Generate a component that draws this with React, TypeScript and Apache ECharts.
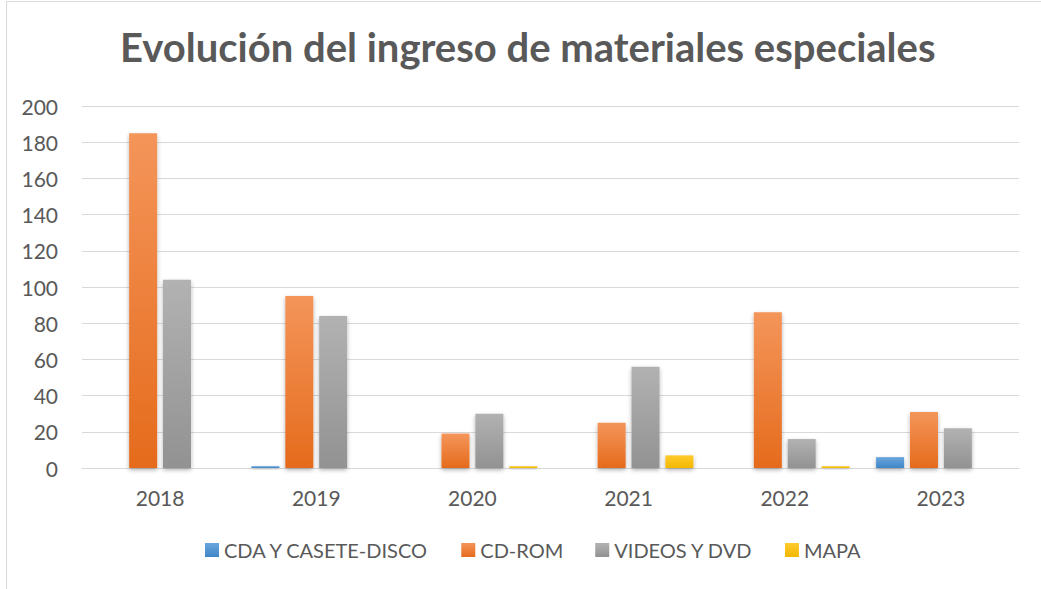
import React, { useEffect, useRef } from "react";
import * as echarts from "echarts";

const years = ["2018", "2019", "2020", "2021", "2022", "2023"];
const cdaValues = [0, 1, 0, 0, 0, 6];
const cdromValues = [185, 95, 19, 25, 86, 31];
const videoValues = [104, 84, 30, 56, 16, 22];
const mapaValues = [0, 0, 1, 7, 1, 0];
const seriesNames = ["CDA Y CASETE-DISCO", "CD-ROM", "VIDEOS Y DVD", "MAPA"];

const grad = (top: string, bottom: string) =>
  new echarts.graphic.LinearGradient(0, 0, 0, 1, [
    { offset: 0, color: top },
    { offset: 1, color: bottom },
  ]);

export default function App() {
  const ref = useRef<HTMLDivElement>(null);
  useEffect(() => {
    document.body.style.margin = "0";
    const chart = echarts.init(ref.current!, null, { renderer: "svg" });
    const font = "Lato";
    const barBase = {
      type: "bar" as const,
      barWidth: 28,
      barGap: "21%",
    };
    chart.setOption({
      animation: false,
      backgroundColor: "#ffffff",
      title: {
        text: "Evolución del ingreso de materiales especiales",
        left: 115,
        top: 22,
        textStyle: { fontFamily: font, fontWeight: "bold", fontSize: 40, color: "#595959" },
      },
      graphic: [
        {
          type: "rect",
          shape: { x: 6.5, y: 1.5, width: 1040, height: 600 },
          style: { fill: "none", stroke: "#d9d9d9", lineWidth: 1 },
          silent: true,
        },
      ],
      legend: {
        bottom: 24,
        left: 200,
        itemWidth: 14,
        itemHeight: 14,
        itemGap: 32,
        icon: "rect",
        textStyle: { fontFamily: font, fontSize: 20, color: "#595959" },
        data: seriesNames,
      },
      grid: { left: 82, right: 22, top: 106, bottom: 121 },
      xAxis: {
        type: "category",
        data: years,
        axisLine: { lineStyle: { color: "#d9d9d9", width: 1 } },
        axisTick: { show: false },
        axisLabel: { fontFamily: font, fontSize: 21, color: "#595959", margin: 19 },
      },
      yAxis: {
        type: "value",
        min: 0,
        max: 200,
        interval: 20,
        axisLine: { show: false },
        axisTick: { show: false },
        splitLine: { lineStyle: { color: "#d9d9d9", width: 1 } },
        axisLabel: { fontFamily: font, fontSize: 21, color: "#595959", margin: 24 },
      },
      series: [
        {
          ...barBase,
          name: seriesNames[0],
          data: cdaValues,
          itemStyle: { color: grad("#6AA6DC", "#3F86C7"), shadowBlur: 4, shadowColor: "rgba(0,0,0,0.3)", shadowOffsetY: 2 },
        },
        {
          ...barBase,
          name: seriesNames[1],
          data: cdromValues,
          itemStyle: { color: grad("#F4955A", "#E56B1C"), shadowBlur: 4, shadowColor: "rgba(0,0,0,0.3)", shadowOffsetY: 2 },
        },
        {
          ...barBase,
          name: seriesNames[2],
          data: videoValues,
          itemStyle: { color: grad("#B2B2B2", "#929292"), shadowBlur: 4, shadowColor: "rgba(0,0,0,0.3)", shadowOffsetY: 2 },
        },
        {
          ...barBase,
          name: seriesNames[3],
          data: mapaValues,
          itemStyle: { color: grad("#FFCB2F", "#F2B800"), shadowBlur: 4, shadowColor: "rgba(0,0,0,0.3)", shadowOffsetY: 2 },
        },
      ],
    });
    return () => chart.dispose();
  }, []);
  return <div ref={ref} style={{ width: 1041, height: 589 }} />;
}
